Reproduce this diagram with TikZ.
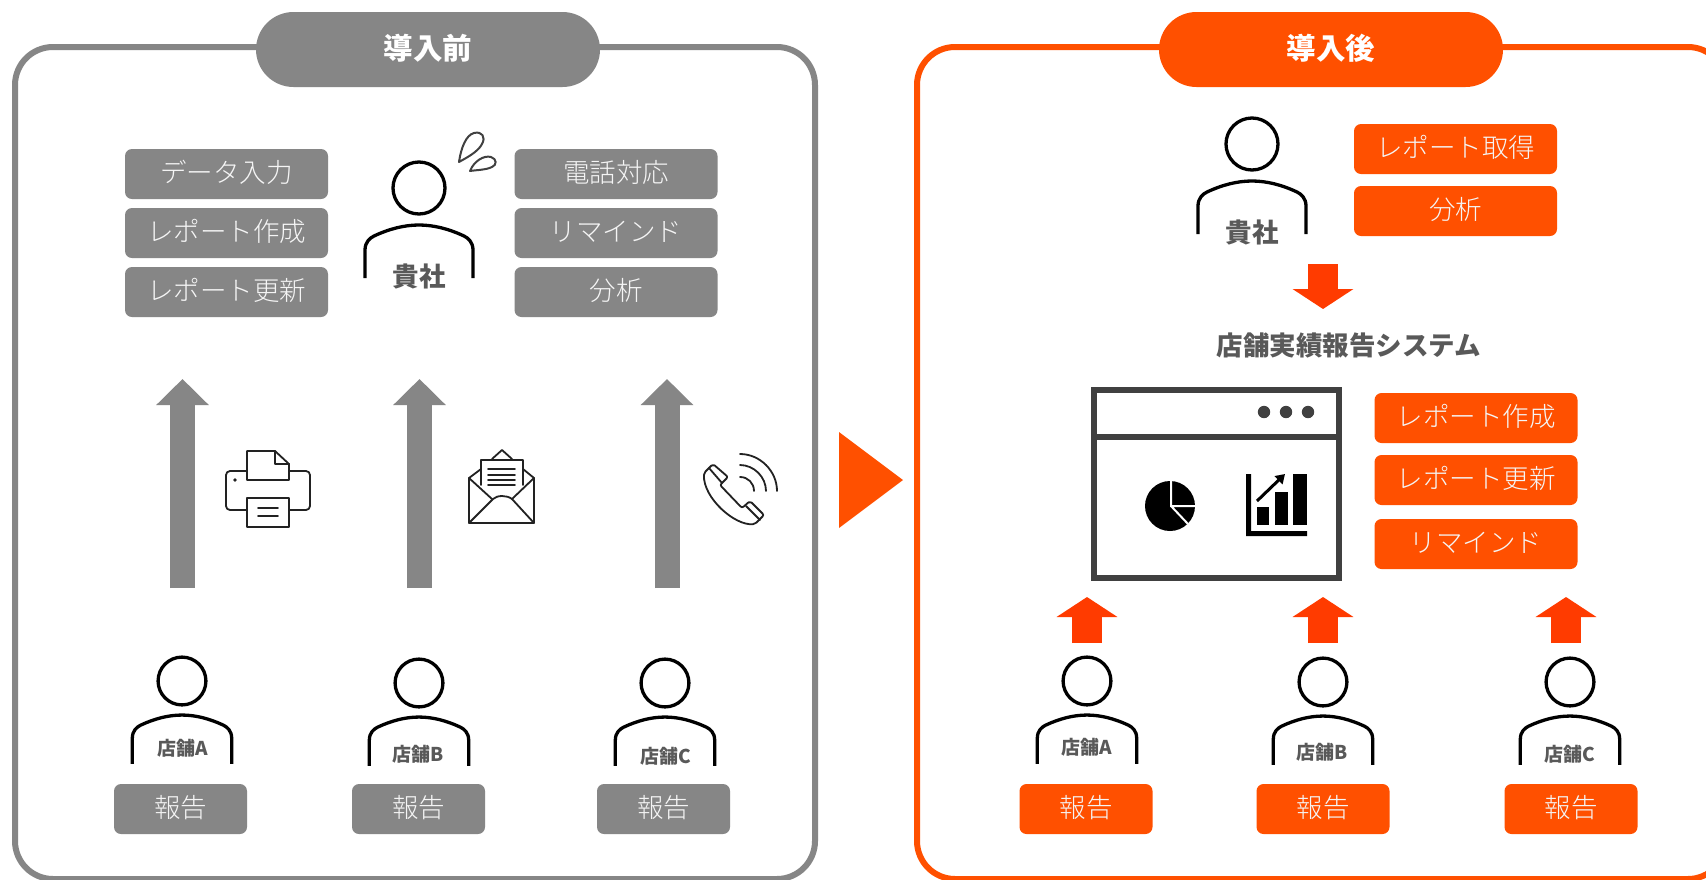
\documentclass[tikz,border=0pt]{standalone}
\usepackage{fontspec}
\setmainfont{Noto Sans CJK JP}
\newfontfamily\lightcjk{Noto Sans CJK JP Light}
\usetikzlibrary{arrows.meta}
\definecolor{pgray}{HTML}{868686}
\definecolor{porange}{HTML}{FF5000}
\definecolor{parrow}{HTML}{FF3B00}
\definecolor{ptext}{HTML}{595959}
\definecolor{picon}{HTML}{222222}
\definecolor{pwin}{HTML}{404040}
\definecolor{boxtext}{HTML}{F5F5F5}
\tikzset{
  panelg/.style={draw=pgray,line width=6pt,rounded corners=38pt},
  panelo/.style={draw=porange,line width=6pt,rounded corners=38pt},
  pill/.style={minimum width=344pt,minimum height=75pt,rounded corners=37.5pt,inner sep=0pt,text=white,text height=24.5pt,text depth=4pt,font=\fontsize{29.5}{33}\selectfont\bfseries},
  taskbox/.style={minimum width=203pt,minimum height=50pt,rounded corners=7pt,inner sep=0pt,text=boxtext,text height=21.5pt,text depth=4pt,font=\lightcjk\fontsize{26.5}{30}\selectfont},
  repbox/.style={minimum width=133pt,minimum height=50pt,rounded corners=7pt,inner sep=0pt,text=boxtext,text height=21.5pt,text depth=4pt,font=\lightcjk\fontsize{26.5}{30}\selectfont},
  who/.style={text=ptext,inner sep=0pt,font=\fontsize{26.5}{30}\selectfont\bfseries},
  shop/.style={text=ptext,inner sep=0pt,font=\fontsize{19}{22}\selectfont\bfseries},
  bigarrow/.style={line width=25pt,draw=pgray,-{Triangle[length=26pt,width=51pt]}},
  redarrowL/.style={line width=30pt,draw=parrow,-{Triangle[length=20pt,width=60pt]}},
  iconline/.style={draw=picon,line width=1.8pt,line join=round,line cap=round},
}
\newcommand{\personfig}[3]{%
  \begin{scope}[shift={(#1,#2)},x=#3pt,y=-#3pt]
    \draw[line width=3.3pt] (0,0) circle[radius=26];
    \draw[line width=3.3pt] (-54,90) -- (-54,62) .. controls (-54,54) and (-49,50) .. (-45,48)
      .. controls (-30,41) and (-15,37) .. (0,37)
      .. controls (15,37) and (30,41) .. (45,48)
      .. controls (49,50) and (54,54) .. (54,62) -- (54,90);
  \end{scope}}
\begin{document}
\begin{tikzpicture}[x=1pt,y=-1pt]
\useasboundingbox (0,0) rectangle (1706,879);
\clip (0,0) rectangle (1706,879);
\fill[white] (0,0) rectangle (1706,879);
% panels
\draw[panelg] (15,47) rectangle (815,879);
\draw[panelo] (917,47) rectangle (1726,879);
\node[pill,fill=pgray] (hdrL) at (428,49.5) {導入前};
\node[pill,fill=porange] (hdrR) at (1331,49.5) {導入後};
% left tasks
\node[taskbox,fill=pgray] (t1) at (226.5,174) {データ入力};
\node[taskbox,fill=pgray] (t2) at (226.5,233) {レポート作成};
\node[taskbox,fill=pgray] (t3) at (226.5,292) {レポート更新};
\node[taskbox,fill=pgray] (t4) at (616,174) {電話対応};
\node[taskbox,fill=pgray] (t5) at (616,233) {リマインド};
\node[taskbox,fill=pgray] (t6) at (616,292) {分析};
% left company
\personfig{419}{188}{1}
\node[who] (coL) at (419,276) {貴社};
\draw[draw=pwin,line width=2pt,fill=white,line join=round] (459,162) .. controls (461,148) and (466,135) .. (474,133) .. controls (482,131) and (486,137) .. (482,144) .. controls (478,152) and (466,158) .. (459,162) -- cycle;
\draw[draw=pwin,line width=2pt,fill=white,line join=round] (470,171) .. controls (474,161) and (484,155) .. (491,157) .. controls (497,159) and (497,165) .. (492,167) .. controls (486,170) and (476,170) .. (470,171) -- cycle;
% left arrows
\coordinate (a1s) at (182.5,588); \coordinate (a1e) at (182.5,379);
\coordinate (a2s) at (419.5,588); \coordinate (a2e) at (419.5,379);
\coordinate (a3s) at (667,588); \coordinate (a3e) at (667,379);
\draw[bigarrow] (a1s) -- (a1e);
\draw[bigarrow] (a2s) -- (a2e);
\draw[bigarrow] (a3s) -- (a3e);
% printer
\draw[iconline,rounded corners=4pt] (226,471) rectangle (310,510);
\draw[iconline,fill=white] (247,451) -- (275,451) -- (289,464) -- (289,480) -- (247,480) -- cycle;
\draw[iconline] (275,451) -- (275,464) -- (289,464);
\draw[iconline,fill=white] (247,498) rectangle (289,527);
\draw[iconline] (258,508) -- (278,508) (258,516) -- (278,516);
\fill[picon] (235,480) circle[radius=1.8];
% envelope
\draw[iconline] (469,478) -- (469,523) -- (534,523) -- (534,478);
\draw[iconline] (469,478) -- (481,469) (534,478) -- (523,469);
\draw[iconline] (492,459) -- (502,450) -- (512,459);
\draw[iconline] (481,485) -- (481,460) -- (523,460) -- (523,485);
\draw[iconline] (469,478) -- (492,499) (534,478) -- (512,499);
\draw[iconline] (469,523) -- (493,499) .. controls (497,495) and (507,495) .. (512,499) -- (534,523);
\draw[iconline] (488,469) -- (515,469) (488,475) -- (515,475) (488,480) -- (515,480) (488,485) -- (515,485);
% phone
\draw[iconline,rounded corners=2pt] (713,464) -- (728,477) -- (720,485) -- (742,508) -- (750,501) -- (764,515) -- (755,524)
  .. controls (735,526) and (703,498) .. (704,473) -- cycle;
\draw[iconline] (709,468) -- (722,483) (746,506) -- (760,520);
\draw[iconline] (740,477) .. controls (748,477) and (754,483) .. (754,491);
\draw[iconline] (740,465) .. controls (754,465) and (766,477) .. (766,491);
\draw[iconline] (740,454) .. controls (760,454) and (777,471) .. (777,491);
% left shops
\personfig{182}{681}{0.92}
\personfig{419}{683}{0.92}
\personfig{665}{683}{0.92}
\node[shop] (sa) at (183,748) {店舗A};
\node[shop] (sb) at (418,754) {店舗B};
\node[shop] (sc) at (666,756) {店舗C};
\node[repbox,fill=pgray] (ra) at (180.5,809) {報告};
\node[repbox,fill=pgray] (rb) at (418.5,809) {報告};
\node[repbox,fill=pgray] (rc) at (663.5,809) {報告};
% centre triangle
\fill[porange] (839,432) -- (903,480) -- (839,528) -- cycle;
% right top
\personfig{1252}{144}{1}
\node[who] (coR) at (1252,232) {貴社};
\node[taskbox,fill=porange] (o1) at (1455.5,149) {レポート取得};
\node[taskbox,fill=porange] (o2) at (1455.5,211) {分析};
\coordinate (d1s) at (1323,264); \coordinate (d1e) at (1323,309);
\draw[redarrowL] (d1s) -- (d1e);
\node[text=ptext,inner sep=0pt,font=\fontsize{26.5}{30}\selectfont\bfseries] (sys) at (1349,345) {店舗実績報告システム};
% window
\draw[draw=pwin,line width=6pt] (1094,390) rectangle (1339,578);
\draw[draw=pwin,line width=6pt] (1094,437) -- (1339,437);
\foreach \dx in {1264,1286,1308} \fill[pwin] (\dx,412) circle[radius=6.2];
% pie
\fill[black] (1170,506) circle[radius=25];
\draw[white,line width=2pt] (1171,480) -- (1171,506) -- (1197,506) (1171,506) -- (1188,524);
% chart
\fill[black] (1246,474) -- (1251,474) -- (1251,531) -- (1307,531) -- (1307,536) -- (1246,536) -- cycle;
\fill[black] (1257,507) rectangle (1269,525);
\fill[black] (1275,492) rectangle (1288,525);
\fill[black] (1293,474) rectangle (1307,525);
\draw[black,line width=3pt,-{Triangle[length=9pt,width=11pt]}] (1257,501) -- (1285,474);
% right tasks
\node[taskbox,fill=porange] (o3) at (1476,418) {レポート作成};
\node[taskbox,fill=porange] (o4) at (1476,480) {レポート更新};
\node[taskbox,fill=porange] (o5) at (1476,544) {リマインド};
% red up arrows
\coordinate (u1s) at (1087,643); \coordinate (u1e) at (1087,597);
\coordinate (u2s) at (1323,643); \coordinate (u2e) at (1323,597);
\coordinate (u3s) at (1566,643); \coordinate (u3e) at (1566,597);
\draw[redarrowL] (u1s) -- (u1e);
\draw[redarrowL] (u2s) -- (u2e);
\draw[redarrowL] (u3s) -- (u3e);
% right shops
\personfig{1087}{681}{0.92}
\personfig{1323}{682}{0.92}
\personfig{1570}{682}{0.92}
\node[shop] (oa) at (1087,747) {店舗A};
\node[shop] (ob) at (1322,752) {店舗B};
\node[shop] (oc) at (1570,754) {店舗C};
\node[repbox,fill=porange] (pa) at (1086,809) {報告};
\node[repbox,fill=porange] (pb) at (1323,809) {報告};
\node[repbox,fill=porange] (pc) at (1571,809) {報告};
\end{tikzpicture}
\end{document}
